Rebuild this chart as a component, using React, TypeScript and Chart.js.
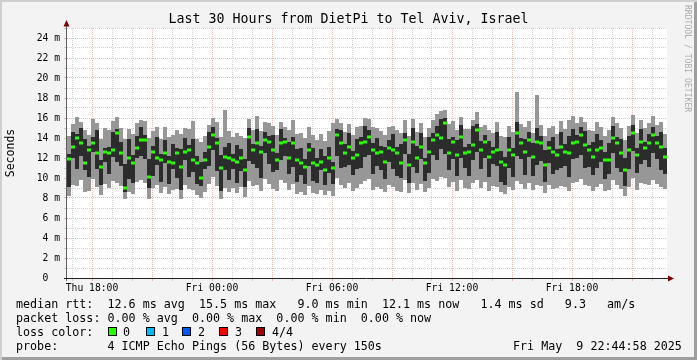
import React, { useEffect, useRef } from 'react';
import { Chart, registerables } from 'chart.js';

Chart.register(...registerables);

// ---------- text ----------
const TITLE = 'Last 30 Hours from DietPi to Tel Aviv, Israel';
const Y_TITLE = 'Seconds';
const WATERMARK = 'RRDTOOL / TOBI OETIKER';
const LEGEND_RTT = 'median rtt:  12.6 ms avg  15.5 ms max   9.0 ms min  12.1 ms now   1.4 ms sd   9.3   am/s';
const LEGEND_LOSS = 'packet loss: 0.00 % avg  0.00 % max  0.00 % min  0.00 % now';
const LEGEND_COLOR_LABEL = 'loss color:';
const LOSS_LABELS = ['0', '1', '2', '3', '4/4'];
const LOSS_COLORS = ['#26ff00', '#00b8ff', '#0059ff', '#ff0000', '#a10000'];
const LEGEND_PROBE = 'probe:       4 ICMP Echo Pings (56 Bytes) every 150s';
const LEGEND_DATE = 'Fri May  9 22:44:58 2025';

// ---------- axes (time in minutes after Thu 00:00, values in ms) ----------
const X_START = 1005; // Thu 16:45
const X_END = 2805; // Fri 22:45
const STEP = 12; // minutes per consolidated sample
const X_GRID = [1020, 1080, 1140, 1200, 1260, 1320, 1380, 1440, 1500, 1560, 1620, 1680, 1740, 1800, 1860, 1920, 1980, 2040, 2100, 2160, 2220, 2280, 2340, 2400, 2460, 2520, 2580, 2640, 2700, 2760];
const X_LABEL_AT = [1080, 1440, 1800, 2160, 2520];
const X_LABELS = ['Thu 18:00', 'Fri 00:00', 'Fri 06:00', 'Fri 12:00', 'Fri 18:00'];
const Y_TICKS = [0, 1, 2, 3, 4, 5, 6, 7, 8, 9, 10, 11, 12, 13, 14, 15, 16, 17, 18, 19, 20, 21, 22, 23, 24, 25];
const Y_LABELS = ['0  ', '', '2 m', '', '4 m', '', '6 m', '', '8 m', '', '10 m', '', '12 m', '', '14 m', '', '16 m', '', '18 m', '', '20 m', '', '22 m', '', '24 m', ''];

// ---------- data (ms) ----------
const median = [
  11.9, 13.1, 14.0, 13.5, 11.5, 12.8, 13.5, 12.5, 11.1, 12.6,
  12.5, 12.8, 14.5, 12.5, 9.0, 12.0, 11.5, 13.0, 13.8, 13.8,
  10.1, 12.6, 12.0, 11.8, 12.5, 11.6, 11.5, 12.5, 11.1, 12.6,
  12.8, 11.8, 11.5, 10.0, 11.8, 13.1, 14.3, 13.5, 11.0, 12.1,
  12.0, 11.8, 11.6, 12.0, 10.8, 14.1, 12.8, 13.5, 12.6, 13.8,
  13.6, 12.8, 11.8, 13.5, 13.6, 12.0, 13.5, 11.8, 11.5, 11.1,
  12.8, 11.5, 11.3, 11.6, 10.8, 12.0, 11.0, 14.3, 13.5, 12.5,
  13.1, 12.0, 12.3, 13.5, 13.6, 14.1, 12.8, 12.5, 12.6, 11.6,
  13.0, 12.8, 12.5, 11.5, 13.8, 11.3, 13.6, 12.0, 13.1, 11.5,
  12.6, 13.8, 14.3, 14.0, 15.5, 12.5, 13.6, 12.3, 14.1, 12.5,
  12.6, 13.3, 14.8, 12.8, 13.6, 12.1, 12.6, 12.8, 11.6, 11.3,
  12.8, 12.3, 14.5, 13.5, 12.6, 13.8, 12.1, 13.6, 13.5, 11.3,
  13.0, 12.6, 12.3, 13.1, 12.6, 12.5, 13.5, 13.6, 14.3, 13.3,
  12.8, 12.1, 12.8, 13.0, 11.8, 11.8, 14.0, 13.5, 12.5, 10.8,
  12.8, 14.5, 12.3, 13.6, 13.0, 13.5, 14.3, 13.5, 13.1, 12.1,
];
const darkHi = [
  12.4, 14.6, 14.4, 15.0, 13.9, 13.2, 14.1, 14.8, 11.8, 13.0,
  13.1, 14.6, 14.9, 13.6, 11.4, 13.9, 12.3, 14.2, 15.1, 14.3,
  11.9, 13.2, 14.1, 12.4, 13.8, 12.2, 13.4, 13.0, 12.9, 14.0,
  13.3, 13.9, 12.2, 11.6, 12.6, 14.6, 15.1, 14.0, 12.3, 13.1,
  13.5, 12.4, 13.3, 12.9, 11.9, 15.0, 13.4, 14.9, 13.2, 14.6,
  14.2, 14.3, 12.5, 14.9, 14.0, 13.6, 14.1, 12.9, 13.0, 11.9,
  13.5, 13.0, 12.0, 12.9, 12.2, 13.1, 11.6, 14.9, 14.8, 13.4,
  14.5, 12.7, 13.9, 14.1, 15.2, 14.8, 13.5, 14.0, 13.2, 13.1,
  13.8, 14.4, 13.1, 13.4, 14.5, 12.4, 15.0, 13.2, 14.5, 12.0,
  14.1, 14.5, 15.2, 15.9, 16.0, 13.9, 14.1, 13.8, 15.3, 13.1,
  13.4, 15.2, 15.4, 13.7, 14.3, 13.7, 13.1, 14.6, 12.7, 12.1,
  14.1, 13.0, 15.6, 14.0, 13.9, 14.6, 13.5, 15.0, 14.2, 12.8,
  13.7, 14.1, 12.9, 14.6, 13.4, 14.2, 14.9, 14.3, 15.1, 14.7,
  13.3, 13.6, 14.4, 13.8, 12.6, 13.5, 15.2, 14.1, 13.9, 12.0,
  14.2, 15.3, 13.0, 14.9, 13.6, 14.4, 15.1, 14.2, 14.6, 13.0,
];
const darkLo = [
  9.1, 12.0, 10.9, 12.2, 10.8, 10.1, 12.6, 10.9, 9.3, 11.6,
  10.4, 12.1, 11.6, 11.2, 8.6, 9.9, 9.5, 12.0, 12.2, 11.9,
  9.0, 10.2, 11.3, 9.6, 11.5, 9.4, 10.9, 10.0, 8.8, 11.8,
  10.1, 10.6, 9.4, 9.2, 10.9, 11.2, 12.8, 10.7, 8.7, 10.8,
  9.8, 10.9, 9.5, 10.7, 9.1, 11.7, 11.4, 11.0, 10.0, 12.5,
  11.4, 10.6, 10.8, 11.8, 12.2, 10.4, 11.1, 9.6, 10.3, 9.4,
  11.2, 9.7, 9.5, 10.8, 9.3, 10.5, 9.4, 12.2, 11.0, 11.1,
  11.3, 10.3, 10.9, 11.0, 12.1, 12.3, 10.4, 11.2, 10.8, 9.9,
  11.6, 10.9, 10.2, 10.0, 12.4, 9.5, 11.1, 10.5, 11.9, 9.7,
  10.5, 12.3, 11.8, 12.9, 12.4, 10.8, 11.9, 10.2, 12.0, 11.0,
  10.2, 11.8, 12.6, 10.9, 12.0, 10.1, 11.4, 11.2, 9.6, 9.3,
  11.0, 10.1, 12.2, 11.9, 10.3, 12.1, 10.2, 11.3, 11.7, 9.6,
  11.5, 10.4, 10.8, 11.0, 11.2, 10.1, 11.9, 12.0, 12.3, 11.0,
  11.1, 10.3, 11.0, 11.6, 9.9, 10.4, 12.5, 11.0, 10.6, 9.2,
  10.9, 12.7, 10.5, 11.4, 11.8, 11.1, 12.5, 11.9, 10.8, 10.4,
];
const lightHi = [
  14.2, 15.4, 16.1, 15.6, 14.8, 14.3, 15.9, 15.5, 13.9, 15.0,
  14.8, 15.7, 16.1, 15.0, 13.9, 14.9, 14.4, 15.5, 15.8, 15.7,
  14.0, 14.7, 15.1, 13.9, 15.1, 14.1, 14.3, 14.8, 14.4, 15.0,
  14.9, 15.7, 13.9, 13.6, 14.2, 15.3, 16.0, 15.6, 14.1, 16.8,
  14.7, 14.1, 14.5, 14.2, 14.0, 15.9, 14.8, 16.2, 14.7, 15.6,
  15.5, 15.2, 14.3, 15.6, 15.1, 14.8, 15.8, 14.4, 14.5, 14.0,
  15.1, 14.3, 13.8, 14.4, 13.7, 14.7, 15.5, 15.9, 15.5, 14.6,
  15.4, 14.3, 15.1, 15.2, 16.0, 15.9, 15.1, 15.0, 14.7, 14.3,
  15.1, 15.2, 14.8, 14.5, 15.8, 14.2, 15.9, 14.6, 15.5, 14.1,
  15.0, 15.8, 16.4, 16.7, 16.8, 15.4, 15.7, 14.8, 16.1, 14.9,
  14.9, 15.8, 16.6, 15.1, 15.3, 14.8, 14.5, 15.6, 14.2, 14.1,
  15.2, 14.6, 18.6, 15.4, 15.1, 15.7, 14.5, 18.3, 15.3, 14.2,
  15.0, 15.2, 14.4, 15.7, 14.9, 15.8, 16.2, 15.5, 16.1, 15.6,
  14.8, 14.7, 15.6, 15.1, 14.2, 14.8, 16.1, 15.5, 15.0, 13.8,
  15.2, 16.3, 14.5, 15.8, 15.0, 15.5, 16.2, 15.3, 15.6, 14.4,
];
const lightLo = [
  8.2, 9.3, 9.2, 9.8, 8.6, 8.7, 9.9, 9.1, 8.3, 9.4,
  9.0, 9.7, 9.5, 9.2, 7.9, 8.6, 8.4, 9.6, 9.8, 9.5,
  7.9, 9.0, 9.3, 8.5, 9.1, 8.4, 8.8, 8.9, 7.9, 9.3,
  8.9, 8.8, 8.3, 8.0, 8.6, 9.4, 10.1, 9.2, 7.9, 9.0,
  8.6, 9.0, 8.5, 9.1, 8.1, 9.7, 9.2, 9.3, 8.7, 9.9,
  9.4, 8.9, 8.7, 9.8, 9.5, 8.8, 9.4, 8.4, 8.6, 8.3,
  9.2, 8.5, 8.4, 8.8, 8.3, 8.7, 8.2, 10.0, 9.3, 9.0,
  9.5, 8.7, 9.0, 9.4, 9.7, 9.9, 8.8, 9.1, 8.9, 8.6,
  9.3, 9.1, 8.7, 8.6, 9.8, 8.5, 9.5, 8.8, 9.4, 8.6,
  9.0, 9.9, 9.7, 10.1, 10.0, 9.1, 9.6, 8.7, 9.8, 9.0,
  8.9, 9.5, 9.8, 9.0, 9.6, 8.7, 9.2, 9.1, 8.6, 8.4,
  9.1, 8.8, 9.7, 9.4, 8.9, 9.5, 8.8, 9.3, 9.2, 8.5,
  9.3, 8.9, 9.0, 9.2, 9.1, 8.7, 9.5, 9.6, 9.9, 9.3,
  9.2, 8.7, 9.1, 9.4, 8.7, 8.8, 9.8, 9.3, 8.9, 8.2,
  9.1, 10.0, 8.8, 9.5, 9.4, 9.3, 9.8, 9.4, 9.1, 8.9,
];

// ---------- styling ----------
const MONO = "'DejaVu Sans Mono', monospace";
const BG = '#f3f3f3';
const GRID_MINOR = 'rgba(143,143,143,0.4)';
const GRID_MAJOR = 'rgba(222,80,80,0.42)';
const LIGHT = '#979797';
const DARK = '#2c2c2c';
const ARROW = '#7f0000';

const framePlugin = {
  id: 'rrdFrame',
  beforeDraw(chart: any) {
    const { ctx, chartArea: a } = chart;
    ctx.save();
    ctx.fillStyle = '#ffffff';
    ctx.fillRect(a.left, a.top, a.right - a.left, a.bottom - a.top);
    ctx.restore();
  },
  afterDraw(chart: any) {
    const { ctx, chartArea: a } = chart;
    ctx.save();
    ctx.lineWidth = 1;
    // y axis
    ctx.strokeStyle = '#606060';
    ctx.beginPath();
    ctx.moveTo(a.left - 0.5, a.bottom + 3);
    ctx.lineTo(a.left - 0.5, a.top - 4);
    ctx.stroke();
    // x axis
    ctx.strokeStyle = '#202020';
    ctx.beginPath();
    ctx.moveTo(a.left - 3, a.bottom + 0.5);
    ctx.lineTo(a.right + 2, a.bottom + 0.5);
    ctx.stroke();
    // arrows
    ctx.fillStyle = ARROW;
    ctx.beginPath();
    ctx.moveTo(a.left - 0.5, a.top - 8);
    ctx.lineTo(a.left - 3.5, a.top - 1.5);
    ctx.lineTo(a.left + 2.5, a.top - 1.5);
    ctx.closePath();
    ctx.fill();
    ctx.beginPath();
    ctx.moveTo(a.right + 7, a.bottom + 0.5);
    ctx.lineTo(a.right + 1, a.bottom - 2.5);
    ctx.lineTo(a.right + 1, a.bottom + 3.5);
    ctx.closePath();
    ctx.fill();
    ctx.restore();
  },
};

export default function App() {
  const ref = useRef<HTMLCanvasElement | null>(null);

  useEffect(() => {
    if (!ref.current) return;
    Chart.defaults.font.family = MONO;
    const xs = median.map((_, i) => X_START + STEP * i + STEP / 2);
    const lightData = xs.map((x, i) => ({ x, y: [lightLo[i], lightHi[i]] }));
    const darkData = xs.map((x, i) => ({ x, y: [darkLo[i], darkHi[i]] }));
    const medData = xs.map((x, i) => ({ x, y: [median[i] - 0.15, median[i] + 0.15] }));
    const barCommon = { grouped: false, barThickness: 4, borderWidth: 0, borderSkipped: false, inflateAmount: 0 };

    const chart = new Chart(ref.current, {
      type: 'bar',
      data: {
        datasets: [
          { label: 'median', data: medData as any, backgroundColor: LOSS_COLORS[0], order: 1, ...barCommon },
          { label: 'inner pings', data: darkData as any, backgroundColor: DARK, order: 2, ...barCommon },
          { label: 'outer pings', data: lightData as any, backgroundColor: LIGHT, order: 3, ...barCommon },
        ],
      },
      options: {
        animation: false,
        responsive: false,
        devicePixelRatio: 1,
        layout: { padding: { left: 0, right: 30, top: 28, bottom: 0 } },
        plugins: { legend: { display: false }, tooltip: { enabled: false }, title: { display: false } },
        scales: {
          x: {
            type: 'linear',
            min: X_START,
            max: X_END,
            offset: false,
            afterBuildTicks: (s: any) => { s.ticks = X_GRID.map((v) => ({ value: v })); },
            afterFit: (s: any) => { s.height = 22; },
            grid: {
              offset: false,
              color: (c: any) => (c.tick && c.tick.value % 180 === 0 ? GRID_MAJOR : GRID_MINOR),
              tickColor: (c: any) => (c.tick && c.tick.value % 180 === 0 ? GRID_MAJOR : GRID_MINOR),
              tickLength: 3,
              drawTicks: true,
            },
            border: { display: false, dash: [1, 1] },
            ticks: {
              autoSkip: false,
              maxRotation: 0,
              padding: 2,
              color: '#000',
              font: { family: MONO, size: 9.7 },
              callback: (v: any) => { const i = X_LABEL_AT.indexOf(Number(v)); return i >= 0 ? X_LABELS[i] : ''; },
            },
          },
          y: {
            type: 'linear',
            min: 0,
            max: 25,
            afterBuildTicks: (s: any) => { s.ticks = Y_TICKS.map((v) => ({ value: v })); },
            afterFit: (s: any) => { s.width = 67; },
            grid: {
              color: (c: any) => (c.tick && c.tick.value % 2 === 0 ? GRID_MAJOR : GRID_MINOR),
              tickColor: (c: any) => (c.tick && c.tick.value % 2 === 0 ? GRID_MAJOR : GRID_MINOR),
              tickLength: 3,
              drawTicks: true,
            },
            border: { display: false, dash: [1, 1] },
            ticks: {
              autoSkip: false,
              padding: 4,
              color: '#000',
              font: { family: MONO, size: 9.7 },
              callback: (v: any) => { const i = Y_TICKS.indexOf(Number(v)); return i >= 0 ? Y_LABELS[i] : ''; },
            },
            title: {
              display: true,
              text: Y_TITLE,
              color: '#000',
              padding: { top: 4, bottom: 0 },
              font: { family: MONO, size: 11.5 },
            },
          },
        },
      } as any,
      plugins: [framePlugin],
    });
    return () => chart.destroy();
  }, []);

  const rowBase: React.CSSProperties = {
    position: 'absolute',
    left: 16,
    fontFamily: MONO,
    fontSize: '11.7px',
    lineHeight: '14px',
    whiteSpace: 'pre',
    color: '#000',
  };
  const boxX = [108, 146, 182, 219, 256];
  const labX = [123, 162, 198, 235, 272];

  return (
    <div
      style={{
        position: 'absolute',
        left: 0,
        top: 0,
        width: 697,
        height: 360,
        background: BG,
        boxShadow: 'inset 2px 2px 0 #cfcfcf, inset -3px -3px 0 #9e9e9e',
        overflow: 'hidden',
      }}
    >
      <canvas ref={ref} width={697} height={300} style={{ position: 'absolute', left: 0, top: 0, width: 697, height: 300 }} />
      <div
        style={{
          position: 'absolute', left: 0, width: 697, top: 11, textAlign: 'center',
          fontFamily: MONO, fontSize: '13.3px', lineHeight: '16px', color: '#000', whiteSpace: 'pre',
        }}
      >
        {TITLE}
      </div>
      <div
        style={{
          position: 'absolute', left: 683, top: 5, writingMode: 'vertical-rl',
          fontFamily: MONO, fontSize: '8.1px', lineHeight: '10px', color: '#ababab', whiteSpace: 'pre',
        }}
      >
        {WATERMARK}
      </div>
      <div style={{ ...rowBase, top: 297 }}>{LEGEND_RTT}</div>
      <div style={{ ...rowBase, top: 311 }}>{LEGEND_LOSS}</div>
      <div style={{ ...rowBase, top: 325 }}>{LEGEND_COLOR_LABEL}</div>
      {LOSS_LABELS.map((l, i) => (
        <React.Fragment key={l}>
          <div
            style={{
              position: 'absolute', left: boxX[i], top: 327, width: 9, height: 9,
              boxSizing: 'border-box', border: '1px solid #000', background: LOSS_COLORS[i],
            }}
          />
          <div style={{ ...rowBase, left: labX[i], top: 325 }}>{l}</div>
        </React.Fragment>
      ))}
      <div style={{ ...rowBase, top: 339 }}>{LEGEND_PROBE}</div>
      <div style={{ ...rowBase, left: 513, top: 339 }}>{LEGEND_DATE}</div>
    </div>
  );
}
